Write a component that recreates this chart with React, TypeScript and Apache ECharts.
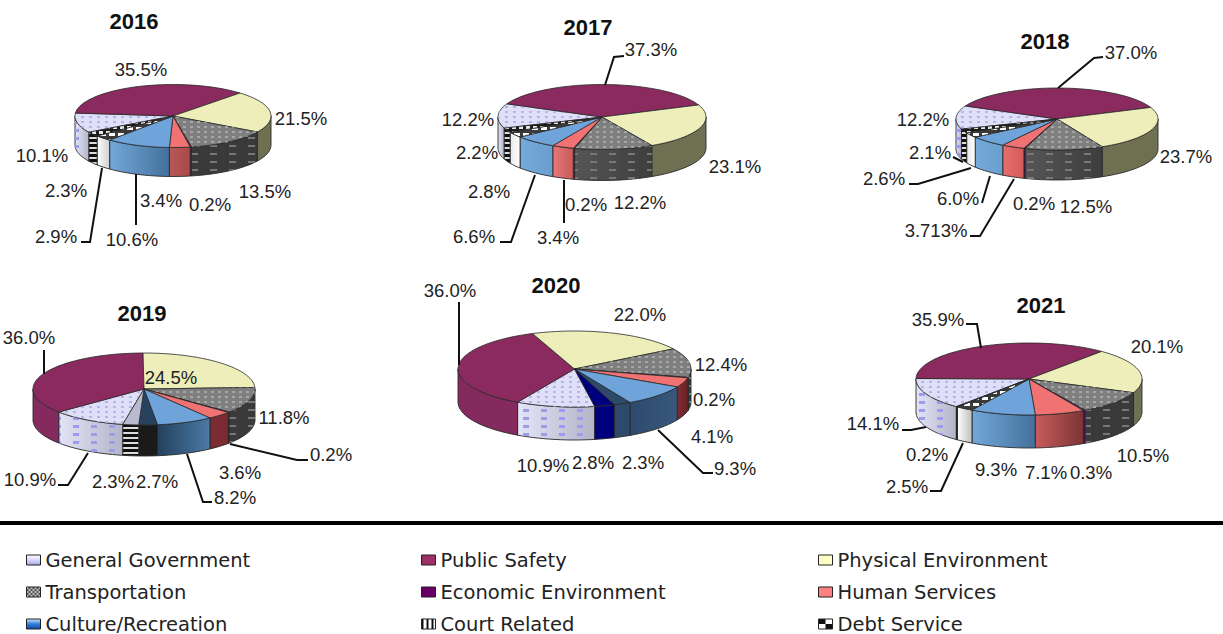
import React, { useEffect, useRef } from "react";
import * as echarts from "echarts";

const years = ["2016", "2017", "2018", "2019", "2020", "2021"];

const categories = [
  "General Government", "Public Safety", "Physical Environment",
  "Transportation", "Economic Environment", "Human Services",
  "Culture/Recreation", "Court Related", "Debt Service",
];

const generalGovernment = [10.1, 12.2, 12.2, 10.9, 10.9, 14.1];
const publicSafety = [35.5, 37.3, 37.0, 36.0, 36.0, 35.9];
const physicalEnvironment = [21.5, 23.1, 23.7, 24.5, 22.0, 20.1];
const transportation = [13.5, 12.2, 12.5, 11.8, 12.4, 10.5];
const economicEnvironment = [0.2, 0.2, 0.2, 0.2, 0.2, 0.3];
const humanServices = [3.4, 3.4, 3.713, 3.6, 4.1, 7.1];
const cultureRecreation = [10.6, 6.6, 6.0, 8.2, 9.3, 9.3];
const courtRelated = [2.9, 2.8, 2.6, 2.7, 2.3, 2.5];
const debtService = [2.3, 2.2, 2.1, 2.3, 2.8, 0.2];

const seriesValues = [
  generalGovernment, publicSafety, physicalEnvironment, transportation,
  economicEnvironment, humanServices, cultureRecreation, courtRelated, debtService,
];

// Layout of each pie: centre, radii, wall height, start angle of the first slice (deg clockwise from top)
const pieLayout = [
  { cx: 173, cy: 116, rx: 98, ry: 31.5, depth: 29, start: 239 },
  { cx: 602, cy: 117, rx: 104, ry: 32.5, depth: 31, start: 250 },
  { cx: 1057, cy: 119, rx: 101, ry: 31, depth: 30, start: 251 },
  { cx: 144, cy: 389, rx: 111, ry: 36, depth: 31, start: 191 },
  { cx: 574.5, cy: 369, rx: 116.5, ry: 38, depth: 33, start: 170 },
  { cx: 1029, cy: 379, rx: 113, ry: 36, depth: 33, start: 220 },
];

const titleCentres = [[134, 23], [588, 29], [1045, 43], [142, 315], [556, 287], [1041, 307]];

// Label centre per category, per year
const labelCentres = [
  [[42, 155], [468, 119], [923, 119], [30, 479], [543, 465], [873, 423]],
  [[141, 69], [651, 49], [1131, 52], [29, 337], [450, 290], [938, 319]],
  [[301, 118], [735, 166], [1186, 156], [171, 377], [640, 314], [1157, 346]],
  [[265, 191], [640, 202], [1086, 206], [284, 417], [721, 364], [1143, 455]],
  [[210, 204], [586, 204], [1034, 203], [331, 454], [714, 399], [1091, 472]],
  [[161, 200], [558, 237], [936, 230], [240, 472], [712, 436], [1046, 472]],
  [[132, 239], [474, 236], [958, 198], [235, 497], [735, 468], [996, 469]],
  [[56, 236], [489, 191], [884, 178], [157, 481], [643, 462], [907, 486]],
  [[66, 190], [477, 152], [930, 152], [113, 481], [593, 462], [927, 454]],
];

// Leader line per category, per year
const leaders: (number[][] | null)[][] = [
  [null, null, null, [[88, 453], [68, 485], [58, 485]], null, [[926, 427], [911, 430], [902, 430]]],
  [null, [[605, 85], [614, 57], [624, 56]], [[1058, 88], [1094, 58], [1103, 57]], [[44, 350], [44, 374]], [[459, 302], [459, 365]], [[981, 348], [977, 324], [966, 324]]],
  [null, null, null, null, null, null],
  [null, null, null, null, null, null],
  [null, null, null, [[230, 444], [297, 460], [308, 460]], null, null],
  [null, [[564, 180], [564, 223]], [[1014, 179], [980, 236], [970, 236]], null, null, null],
  [[[136, 174], [136, 225]], [[535, 175], [511, 242], [500, 242]], [[990, 176], [982, 203]], [[187, 454], [203, 502], [212, 502]], [[658, 430], [703, 473], [713, 473]], null],
  [[[102, 168], [90, 242], [81, 242]], null, [[971, 168], [918, 184], [909, 184]], null, null, [[963, 443], [941, 491], [930, 491]]],
  [null, null, [[953, 157], [963, 162]], null, null, null],
];

function tile(w: number, h: number, draw: (c: CanvasRenderingContext2D) => void) {
  const canvas = document.createElement("canvas");
  canvas.width = w;
  canvas.height = h;
  draw(canvas.getContext("2d") as CanvasRenderingContext2D);
  return { image: canvas.toDataURL(), repeat: "repeat", imageWidth: w, imageHeight: h };
}

function spots(w: number, h: number, sw: number, sh: number, color: string, back?: string) {
  return tile(w, h, (c) => {
    if (back) { c.fillStyle = back; c.fillRect(0, 0, w, h); }
    c.fillStyle = color;
    c.fillRect(1, 1, sw, sh);
  });
}

const hGrad = (a: string, b: string) => ({
  type: "linear", x: 0, y: 0, x2: 1, y2: 0,
  colorStops: [{ offset: 0, color: a }, { offset: 1, color: b }],
});
const vGrad = (stops: string[]) => ({
  type: "linear", x: 0, y: 0, x2: 0, y2: 1,
  colorStops: stops.map((color, i) => ({ offset: i / (stops.length - 1), color })),
});

const generalTopDots = spots(8, 5, 3, 2, "#b4b4f2");
const generalSideDots = spots(18, 8, 6, 3, "#9c9ce8");
const transportTopDots = spots(7, 5, 3, 2, "#a6a6a6");
const transportSideDots = spots(19, 8, 7, 2, "#777777");
const courtTopFill = spots(9, 6, 6, 3, "#ffffff", "#3a3a3a");
const debtTopFill = spots(7, 5, 4, 3, "#e8e8e8", "#1c1c1c");
const debtSideFill = tile(4, 5, (c) => {
  c.fillStyle = "#111111"; c.fillRect(0, 0, 4, 5);
  c.fillStyle = "#dddddd"; c.fillRect(0, 2, 4, 2);
});
const legendTransport = tile(4, 4, (c) => {
  c.fillStyle = "#555555"; c.fillRect(0, 0, 4, 4);
  c.fillStyle = "#bbbbbb"; c.fillRect(0, 0, 2, 2); c.fillRect(2, 2, 2, 2);
});
const legendCourt = tile(5, 4, (c) => {
  c.fillStyle = "#ffffff"; c.fillRect(0, 0, 5, 4);
  c.fillStyle = "#111111"; c.fillRect(0, 0, 2, 4);
});
const legendDebt = tile(14, 10, (c) => {
  c.fillStyle = "#ffffff"; c.fillRect(0, 0, 14, 10);
  c.fillStyle = "#111111"; c.fillRect(0, 0, 7, 5); c.fillRect(7, 5, 7, 5);
});

// Fill of each slice's top and wall, per category and year
const topFill = (cat: number, y: number): any => {
  if (cat === 7 && y === 3) return "#26425f";
  if (cat === 8 && y === 3) return "#b9b9d0";
  if (cat === 7 && y === 4) return "#2e4a6a";
  if (cat === 8 && y === 4) return "#00007c";
  return [
    "#dfdff8", "#8b2a5e", "#eeeeba", "#7f7f7f", "#5a0a6a",
    "#f07272", "#6fa4da", courtTopFill, debtTopFill,
  ][cat];
};
const topOverlay = (cat: number): any =>
  cat === 0 ? generalTopDots : cat === 3 ? transportTopDots : null;

const humanSides = [
  hGrad("#b85858", "#a84848"), hGrad("#e87878", "#c85a5a"), hGrad("#e86e6e", "#d45a5a"),
  hGrad("#7a2c32", "#7a2c32"), hGrad("#7c2c34", "#6a2428"), hGrad("#c85c5c", "#7c3434"),
];
const cultureSides = [
  hGrad("#72a8dc", "#44709a"), hGrad("#74aadc", "#6a9ece"), hGrad("#74aadc", "#6a9ece"),
  hGrad("#24405e", "#4a7aa6"), hGrad("#2c4a6c", "#38587c"), hGrad("#72a8dc", "#44709a"),
];
const courtSides = [
  hGrad("#ffffff", "#cfcfcf"), hGrad("#e8e8e8", "#ffffff"), hGrad("#e8e8e8", "#ffffff"),
  "#1a1a1a", "#2e4a6a", hGrad("#ffffff", "#bdbdbd"),
];
const sideFill = (cat: number, y: number): any => {
  switch (cat) {
    case 0: return hGrad("#e4e4f8", "#b4b4c8");
    case 1: return "#852a5e";
    case 2: return "#6f7052";
    case 3: return y === 1 || y === 2 ? hGrad("#555555", "#3e3e3e") : "#3a3a3a";
    case 4: return "#4a0a58";
    case 5: return humanSides[y];
    case 6: return cultureSides[y];
    case 7: return courtSides[y];
    default: return y === 4 ? "#00007c" : y === 5 ? "#111111" : debtSideFill;
  }
};
const sideOverlay = (cat: number): any =>
  cat === 0 ? generalSideDots : cat === 3 ? transportSideDots : null;

const labelText = (v: number) => {
  const s = String(v);
  return (s.includes(".") ? s : v.toFixed(1)) + "%";
};

const toPoint = (p: any, deg: number, dy = 0) => {
  const t = (deg * Math.PI) / 180;
  return [p.cx + p.rx * Math.sin(t), p.cy - p.ry * Math.cos(t) + dy];
};
const arc = (p: any, a: number, b: number, dy = 0) => {
  const n = Math.max(2, Math.ceil(Math.abs(b - a) / 3));
  const pts = [];
  for (let i = 0; i <= n; i++) pts.push(toPoint(p, a + ((b - a) * i) / n, dy));
  return pts;
};

const sliceSpan = (cat: number, y: number) => {
  const total = seriesValues.reduce((s, arr) => s + arr[y], 0);
  let before = 0;
  for (let i = 0; i < cat; i++) before += seriesValues[i][y];
  const start = pieLayout[y].start + (before / total) * 360;
  return [start, start + (seriesValues[cat][y] / total) * 360];
};

const edge = "#2a2a2a";

const makeRenderItem = (cat: number) => (params: any) => {
  const y = params.dataIndex;
  const p = pieLayout[y];
  const [a0, a1] = sliceSpan(cat, y);
  const children: any[] = [];
  // wall: only the parts of the slice on the front half of the ellipse
  [[90, 270], [450, 630]].forEach(([lo, hi]) => {
    const s = Math.max(a0, lo);
    const e = Math.min(a1, hi);
    if (e <= s) return;
    const points = [...arc(p, s, e), ...arc(p, e, s, p.depth)];
    children.push({
      type: "polygon", shape: { points },
      style: { fill: sideFill(cat, y), stroke: edge, lineWidth: 0.9 },
    });
    const overlay = sideOverlay(cat);
    if (overlay) children.push({ type: "polygon", shape: { points }, style: { fill: overlay } });
  });
  // top
  const top = [[p.cx, p.cy], ...arc(p, a0, a1)];
  children.push({
    type: "polygon", shape: { points: top },
    style: { fill: topFill(cat, y), stroke: edge, lineWidth: 0.8 },
  });
  const over = topOverlay(cat);
  if (over) children.push({ type: "polygon", shape: { points: top }, style: { fill: over } });
  // leader
  const lead = leaders[cat][y];
  if (lead) {
    children.push({
      type: "polyline", shape: { points: lead },
      style: { fill: "none", stroke: "#111111", lineWidth: 2 },
    });
  }
  // label
  const [lx, ly] = labelCentres[cat][y];
  children.push({
    type: "text", x: lx, y: ly, z2: 10,
    style: {
      text: labelText(seriesValues[cat][y]),
      font: "18.5px 'Liberation Sans'",
      fill: "#222222",
      align: "center", verticalAlign: "middle",
      textAlign: "center", textVerticalAlign: "middle",
    },
  });
  return { type: "group", children };
};

const legendSwatches: any[] = [
  vGrad(["#ffffff", "#d8d8ff", "#a8a8e8"]), "#9c3066", "#ffffc8",
  legendTransport, "#660066", "#ff8080",
  vGrad(["#cfe4ff", "#2f7fd8", "#0a4aa8"]), legendCourt, legendDebt,
];
const legendColumns = [
  { left: 26, items: [0, 3, 6] },
  { left: 421, items: [1, 4, 7] },
  { left: 818, items: [2, 5, 8] },
];

const App = () => {
  const ref = useRef<HTMLDivElement>(null);
  useEffect(() => {
    const chart = echarts.init(ref.current as HTMLDivElement, undefined, { renderer: "svg" });
    chart.setOption({
      animation: false,
      backgroundColor: "#ffffff",
      title: years.map((text, i) => ({
        text,
        left: titleCentres[i][0],
        top: titleCentres[i][1] - 13,
        padding: 0,
        textAlign: "center",
        textStyle: { fontFamily: "Liberation Sans", fontWeight: "bold", fontSize: 22, color: "#111111" },
      })),
      legend: legendColumns.map((col) => ({
        orient: "vertical",
        left: col.left,
        top: 550,
        height: 130,
        padding: 0,
        itemGap: 12,
        itemWidth: 14,
        itemHeight: 10,
        selectedMode: false,
        textStyle: { fontFamily: "DejaVu Sans", fontSize: 19.5, color: "#222222" },
        data: col.items.map((i) => ({
          name: categories[i],
          icon: "rect",
          itemStyle: { color: legendSwatches[i], borderColor: "#222222", borderWidth: 1 },
        })),
      })),
      graphic: [
        { type: "line", shape: { x1: 0, y1: 523, x2: 1223, y2: 523 }, style: { stroke: "#000000", lineWidth: 4 } },
      ],
      series: categories.map((name, cat) => ({
        type: "custom",
        name,
        coordinateSystem: "none",
        silent: true,
        data: seriesValues[cat],
        renderItem: makeRenderItem(cat),
      })),
    });
    return () => chart.dispose();
  }, []);
  return <div ref={ref} style={{ position: "fixed", left: 0, top: 0, width: 1223, height: 634 }} />;
};

export default App;
